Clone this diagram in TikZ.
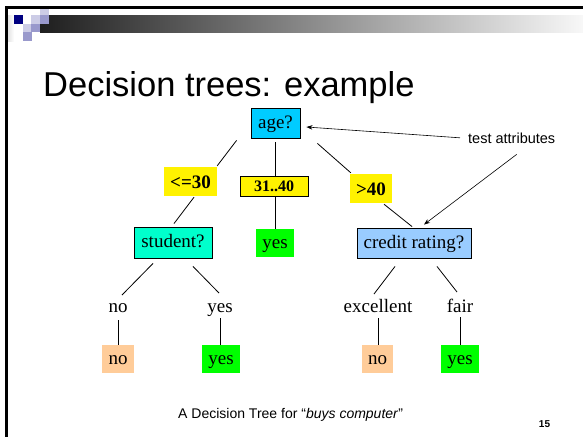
\documentclass[tikz,border=0pt]{standalone}
\usepackage{fontspec}
\setmainfont{Liberation Serif}
\setsansfont{Liberation Sans}
\usetikzlibrary{calc,arrows.meta}
\definecolor{agecol}{HTML}{00CCFF}
\definecolor{studcol}{HTML}{00FFCC}
\definecolor{credcol}{HTML}{99CCFF}
\definecolor{leafyes}{HTML}{00FF00}
\definecolor{leafno}{HTML}{FFCC99}
\definecolor{navy}{HTML}{000080}
\definecolor{lavlight}{HTML}{CCCCE6}
\definecolor{lavmid}{HTML}{9999CC}
\begin{document}
\begin{tikzpicture}[x=1pt,y=-1pt,
  treefont/.style={font=\fontsize{19}{19}\selectfont, text height=14pt, text depth=4pt},
  testbox/.style={treefont, inner sep=0pt, draw=black, line width=0.9pt},
  leafbox/.style={treefont, inner sep=0pt, minimum height=28pt},
  cond/.style={font=\fontsize{19}{19}\selectfont\bfseries, text height=14pt, text depth=0.5pt, inner sep=0pt, fill=yellow},
  lab/.style={font=\fontsize{19}{19}\selectfont, anchor=base, inner sep=0pt},
  edge/.style={line width=0.8pt, black},
  note/.style={line width=0.6pt, -{Stealth[length=6pt,width=4.5pt]}}]
\useasboundingbox (0,0) rectangle (583,437);
\fill[white] (0,0) rectangle (583,437);

% slide frame and header decoration
\shade[left color=gray!25, right color=white] (7,15) rectangle (14,41);
\shade[left color=black!88, middle color=black!30, right color=black!3] (40,15) rectangle (583,32);
\fill[navy] (14,15) rectangle (23,24);
\fill[lavlight] (40,9) rectangle (49,15);
\fill[lavmid] (40,15) rectangle (49,24);
\fill[lavlight] (31,15) rectangle (40,24);
\fill[lavlight] (23,24) rectangle (31,32);
\fill[lavmid] (31,24) rectangle (40,32);
\fill[lavmid] (23,32) rectangle (32,41);
\draw[line width=2.5pt] (583,7.5) -- (6.5,7.5) -- (6.5,437);

% title
\node[anchor=base west, inner sep=0pt, font=\sffamily\fontsize{34.5}{34.5}\selectfont] (title) at (43,96) {Decision trees: example};

% tree nodes
\node[testbox, fill=agecol, minimum width=49pt, minimum height=30pt] (age) at (275.5,123) {age?};
\node[cond, minimum width=53pt, minimum height=29pt] (le30) at (190.5,181.5) {<=30};
\node[cond, font=\fontsize{16}{16}\selectfont\bfseries, text height=11pt, text depth=1pt, draw=black, line width=0.9pt, minimum width=68pt, minimum height=20pt] (mid) at (274,186) {31..40};
\node[cond, minimum width=42pt, minimum height=29pt] (gt40) at (371,188.5) {>40};
\node[leafbox, fill=leafyes, minimum width=38pt] (yesA) at (275,243) {yes};
\node[testbox, fill=studcol, minimum width=78pt, minimum height=31pt] (student) at (173,242.5) {student?};
\node[testbox, fill=credcol, minimum width=114pt, minimum height=30pt] (credit) at (414,243) {credit rating?};

\node[lab] (nolab) at (118,312) {no};
\node[lab] (yeslab) at (220,312) {yes};
\node[lab] (exclab) at (378,312) {excellent};
\node[lab] (fairlab) at (460,312) {fair};

\node[leafbox, fill=leafno, minimum width=32pt] (noB) at (118,359) {no};
\node[leafbox, fill=leafyes, minimum width=38pt] (yesB) at (221,359) {yes};
\node[leafbox, fill=leafno, minimum width=31pt] (noC) at (377.5,359) {no};
\node[leafbox, fill=leafyes, minimum width=38pt] (yesC) at (460,359) {yes};

% branches
\draw[edge] ($(age.south west)+(-14,2)$) -- ($(le30.north east)+(0,-1)$);
\draw[edge] ($(le30.south)+(3.5,1)$) -- ($(student.north)+(1,-3)$);
\draw[edge] ($(age.south)+(-0.5,4)$) -- ($(mid.north)+(1,0)$);
\draw[edge] ($(mid.south)+(1,0)$) -- (yesA.north);
\draw[edge] ($(age.south east)+(17,5)$) -- ($(gt40.north west)+(1,-1)$);
\draw[edge] ($(gt40.south)+(13,1)$) -- ($(credit.north)+(-2,-1)$);
\draw[edge] ($(student.south)+(-20,5)$) -- ($(nolab.base)+(4,-17)$);
\draw[edge] ($(student.south)+(20,8)$) -- ($(yeslab.base)+(-1,-19)$);
\draw[edge] ($(nolab.base)+(0,8)$) -- (noB.north);
\draw[edge] ($(yeslab.base)+(0,6)$) -- ($(yesB.north)+(-1,0)$);
\draw[edge] ($(credit.south)+(-19,8)$) -- ($(exclab.base)+(-4,-18)$);
\draw[edge] ($(credit.south)+(23,8)$) -- ($(fairlab.base)+(-3,-20)$);
\draw[edge] ($(exclab.base)+(0,6)$) -- ($(noC.north)+(0.5,0)$);
\draw[edge] ($(fairlab.base)+(0,5)$) -- (yesC.north);

% annotation
\node[anchor=base west, inner sep=0pt, font=\sffamily\fontsize{14.5}{14.5}\selectfont] (test) at (468,143) {test attributes};
\draw[note] ($(test.west)+(-8,0)$) -- ($(age.east)+(6,4)$);
\draw[note] ($(test.south)+(5,11)$) -- ($(credit.north)+(10,-3)$);

% caption and page number
\node[anchor=base west, inner sep=0pt, font=\sffamily\fontsize{14}{14}\selectfont] (caption) at (178,418) {A Decision Tree for “\textit{buys computer}”};
\node[anchor=base, inner sep=0pt, font=\sffamily\bfseries\fontsize{10}{10}\selectfont] (pageno) at (544.5,427) {15};
\end{tikzpicture}
\end{document}
